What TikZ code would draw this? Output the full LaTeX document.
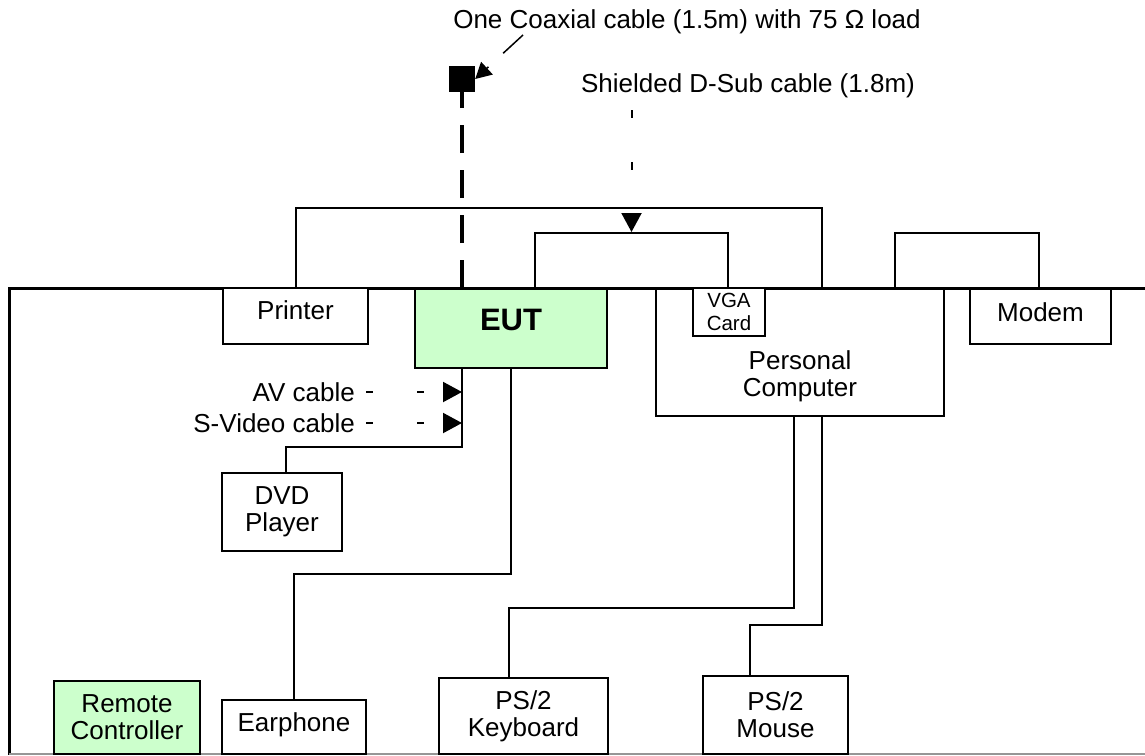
\documentclass[tikz,border=0pt]{standalone}
\usepackage{fontspec}
\setmainfont{Liberation Sans}
\usepackage{tikz}
\definecolor{eutgreen}{RGB}{204,255,204}
\definecolor{rimgray}{RGB}{150,150,150}
\usetikzlibrary{arrows.meta, calc}
\newcommand{\labfont}{\fontsize{26}{27}\selectfont}
\newcommand{\vgafont}{\fontsize{20.5}{23}\selectfont}
\newcommand{\eutfont}{\fontsize{31}{34}\selectfont\bfseries}

\begin{document}
\begin{tikzpicture}[x=1pt, y=-1pt,
    box/.style={draw, line width=2pt, fill=white, inner sep=0pt, align=center, anchor=north west},
    cable/.style={line width=2pt},
    coax/.style={line width=4pt, dash pattern=on 28pt off 17pt},
    leader/.style={line width=1.5pt, dash pattern=on 27pt off 20pt, -{Triangle[length=16pt,width=17pt]}},
    dsub/.style={line width=2pt, dash pattern=on 8pt off 44pt, -{Triangle[length=19pt,width=20pt]}},
    avline/.style={line width=2pt, dash pattern=on 7pt off 44pt, shorten <=11pt, -{Triangle[length=19pt,width=20pt]}},
    frame/.style={line width=3pt},
    font=\labfont]
    % Bildbereich
    \useasboundingbox (0,0) rectangle (1145,755);
    % Tisch zeichnen
    \draw[frame] (1145,288) -- (9,288) -- (9,755);
    \draw[rimgray, line width=2pt] (9,754) -- (1145,754);
    % Geraete
    \node[box, minimum width=145pt, minimum height=56pt, text height=19pt, text depth=13pt] (printer) at (222,287) {Printer};
    \node[box, fill=eutgreen, minimum width=192pt, minimum height=79pt, font=\eutfont, text height=22pt, text depth=19pt] (eut) at (414,288) {EUT};
    \node[box, minimum width=193pt, minimum height=55pt] (monitor) at (534,232) {};
    \node[box, minimum width=288pt, minimum height=127pt, text height=93pt, text depth=6pt] (pc) at (655,288) {Personal\\Computer};
    \node[box, minimum width=72pt, minimum height=48pt, font=\vgafont] (vga) at (692,287) {VGA\\Card};
    \node[box, minimum width=144pt, minimum height=55pt] (modembox) at (894,232) {};
    \node[box, minimum width=141pt, minimum height=55pt, text height=19pt, text depth=10pt] (modem) at (969,288) {Modem};
    \node[box, minimum width=120pt, minimum height=78pt] (dvd) at (221,472) {DVD\\Player};
    \node[box, fill=eutgreen, minimum width=146pt, minimum height=73pt] (remote) at (53,680) {Remote\\Controller};
    \node[box, minimum width=144pt, minimum height=54pt, text height=19pt, text depth=11pt] (ear) at (221,699) {Earphone};
    \node[box, minimum width=169pt, minimum height=76pt] (kb) at (438,677) {PS/2\\Keyboard};
    \node[box, minimum width=145pt, minimum height=78pt] (mouse) at (702,675) {PS/2\\Mouse};
    \node[fill, minimum size=26pt, inner sep=0pt] (load) at (462,79) {};
    % Kabelbeschriftung
    \node[anchor=base] (coaxlbl) at (687,28) {One Coaxial cable (1.5m) with 75 Ω load};
    \node[anchor=base] (dsublbl) at (748,92) {Shielded D-Sub cable (1.8m)};
    \coordinate (coaxend) at (523,35);
    \coordinate (dsubend) at (monitor.north |- 0,110);
    \coordinate (eutA) at ($(eut.south west)+(48,0)$);
    % Kabel zeichnen
    \draw[cable] (printer.north) -- ++(0,-79) -| ($(pc.north west)+(167,0)$);
    \draw[coax] (load.south |- eut.north) -- (load.south);
    \draw[leader] (coaxend) -- (load.east);
    \draw[dsub] (dsubend) -- (monitor.north);
    \draw[cable] (eutA) |- ($(dvd.north west)+(65,-25)$) -- ($(dvd.north west)+(65,0)$);
    \draw[cable] (eut.south) -- ++(0,205) -| (ear.north);
    \draw[cable] ($(pc.south west)+(139,0)$) -- ++(0,191) -| ($(kb.north west)+(71,0)$);
    \draw[cable] ($(pc.south west)+(167,0)$) -- ++(0,208) -| ($(mouse.north west)+(48,0)$);
    \foreach \lbl/\txt/\yy in {av/AV cable/392, sv/S-Video cable/423}{
      \node[anchor=east, inner sep=0pt] (\lbl) at (355,\yy) {\txt};
      \draw[avline] (\lbl.east) -- (\lbl.east -| eutA);
    }
\end{tikzpicture}
\end{document}
